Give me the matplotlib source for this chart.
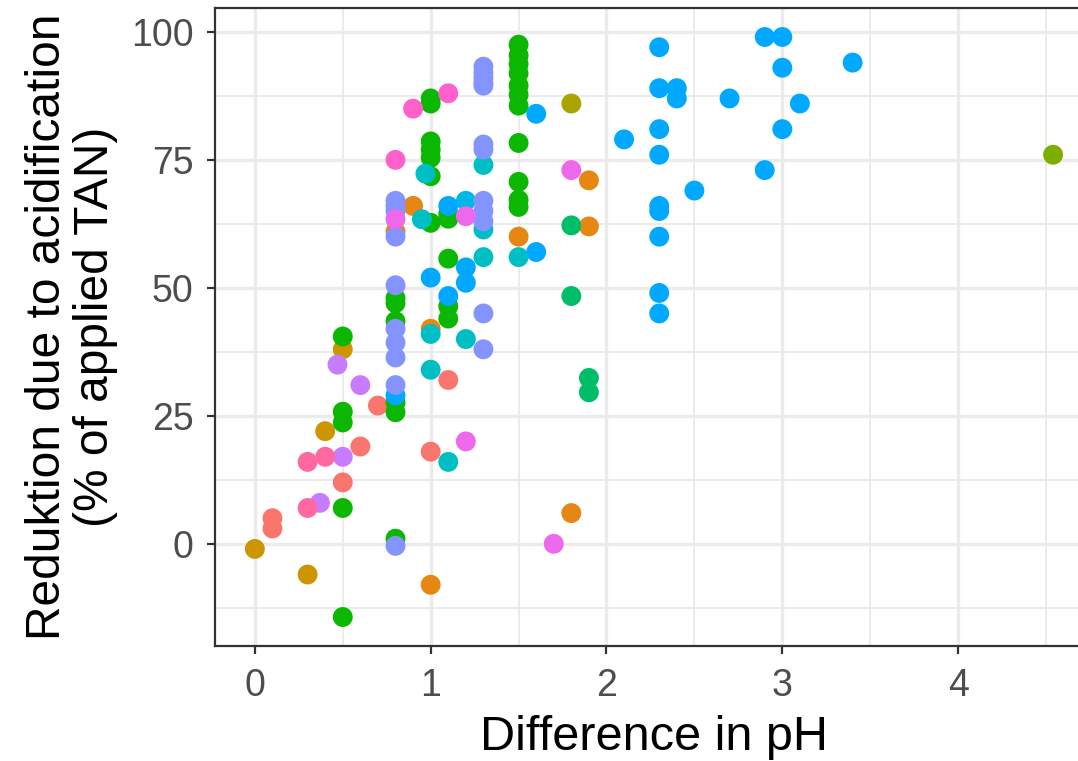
import numpy as np
import matplotlib.pyplot as plt

plt.rcParams['font.family'] = ['Liberation Sans', 'DejaVu Sans']

# pH difference (x) and reduction in % of applied TAN (y), one pair per study
s01_x = [0.1, 0.1, 0.5, 0.6, 0.7, 1.0, 1.1]
s01_y = [5, 3, 12, 19, 27, 18, 32]
s02_x = [1.0, 1.0, 0.9, 0.8, 1.5, 1.8, 1.9, 1.9]
s02_y = [-8, 42, 66, 61, 60, 6, 71, 62]
s03_x = [0.0, 0.3, 0.4, 0.5]
s03_y = [-1, -6, 22, 38]
s04_x = [1.8]
s04_y = [86]
s05_x = [4.54]
s05_y = [76]
s06_x = [0.5, 0.5, 0.5, 0.5, 0.5,
         0.8, 0.8, 0.8, 0.8, 0.8, 0.8,
         1.0, 1.0, 1.0, 1.0, 1.0, 1.0, 1.0,
         1.1, 1.1, 1.1, 1.1, 1.1,
         1.5, 1.5, 1.5, 1.5, 1.5, 1.5, 1.5, 1.5, 1.5, 1.5, 1.5]
s06_y = [40.5, 25.8, 23.7, 7, -14.3,
         48, 47, 43.5, 27.6, 25.7, 1,
         87, 86, 78.6, 77, 75.4, 71.8, 62.7,
         64.5, 63.5, 55.7, 46.4, 44,
         97.5, 95.4, 93.7, 91.9, 89.5, 87.7, 85.6, 78.3, 70.7, 67.2, 65.8]
s07_x = [1.8, 1.8, 1.9, 1.9]
s07_y = [62.2, 48.4, 32.4, 29.6]
s08_x = [1.3, 1.3, 1.3, 1.5, 1.0, 1.0, 1.1, 1.2, 0.95, 0.97]
s08_y = [74, 61.4, 56, 56, 41, 34, 16, 40, 63.4, 72.3]
s09_x = [1.2]
s09_y = [67]
s10_x = [2.3, 2.9, 3.0, 3.4, 3.0, 2.3, 2.4, 2.4, 2.7, 3.1, 2.3, 3.0, 2.1,
         2.3, 2.9, 2.5, 2.3, 2.3, 2.3, 2.3, 2.3,
         1.6, 1.6, 1.0, 1.1, 1.1, 1.2, 1.2, 0.8]
s10_y = [97, 99, 99, 94, 93, 89, 89, 87, 87, 86, 81, 81, 79,
         76, 73, 69, 66, 65, 60, 49, 45,
         84, 57, 52, 48.4, 66, 54, 51, 29]
s11_x = [0.8, 0.8, 0.8, 0.8, 0.8, 0.8, 0.8, 0.8, 0.8, 0.8,
         1.3, 1.3, 1.3, 1.3, 1.3, 1.3, 1.3, 1.3, 1.3, 1.3, 1.3, 1.3]
s11_y = [67, 66, 65, 60, 50.5, 42, 39.3, 36.4, 31, -0.4,
         93.2, 92, 91, 90, 89.5, 78, 77, 67, 65, 63, 45, 38]
s12_x = [0.47, 0.6, 0.5, 0.37]
s12_y = [35, 31, 17, 8]
s13_x = [1.7, 1.8, 1.2, 1.2, 0.8]
s13_y = [0, 73, 20, 64, 63.4]
s14_x = [0.8, 0.9, 1.1]
s14_y = [75, 85, 88]
s15_x = [0.3, 0.4, 0.3]
s15_y = [16, 17, 7]

studies = [(s01_x, s01_y), (s02_x, s02_y), (s03_x, s03_y), (s04_x, s04_y),
           (s05_x, s05_y), (s06_x, s06_y), (s07_x, s07_y), (s08_x, s08_y),
           (s09_x, s09_y), (s10_x, s10_y), (s11_x, s11_y), (s12_x, s12_y),
           (s13_x, s13_y), (s14_x, s14_y), (s15_x, s15_y)]
colors = ['#F8766D', '#E68613', '#CD9600', '#ABA300', '#7CAE00', '#0CB702',
          '#00BE67', '#00BFC4', '#00B8E7', '#00A9FF', '#8494FF', '#C77CFF',
          '#ED68ED', '#FF61CC', '#FF68A1']

fig = plt.figure(figsize=(10.78, 7.61), dpi=100)
ax = fig.add_axes([0.1994, 0.1511, 0.8145, 0.8384])

for (xs, ys), c in zip(studies, colors):
    ax.scatter(xs, ys, s=205, color=c, edgecolors='none', zorder=3)

# ggplot-like 5% expansion of the data range
all_x = np.concatenate([s[0] for s in studies])
all_y = np.concatenate([s[1] for s in studies])
dx = (all_x.max() - all_x.min()) * 0.05
dy = (all_y.max() - all_y.min()) * 0.05
ax.set_xlim(all_x.min() - dx, all_x.max() + dx)
ax.set_ylim(all_y.min() - dy, all_y.max() + dy)

ax.set_xticks([0, 1, 2, 3, 4])
ax.set_xticks(np.arange(0.5, 5, 1), minor=True)
ax.set_yticks([0, 25, 50, 75, 100])
ax.set_yticks([-12.5, 12.5, 37.5, 62.5, 87.5], minor=True)

ax.grid(True, which='major', color='#EBEBEB', linewidth=2.4, zorder=0)
ax.grid(True, which='minor', color='#EBEBEB', linewidth=1.4, zorder=0)
ax.set_axisbelow(True)

ax.tick_params(which='major', length=5.5, width=1.6, color='#333333',
               labelsize=27, labelcolor='#4D4D4D', pad=10)
ax.tick_params(which='minor', length=0)
for sp in ax.spines.values():
    sp.set_color('#333333')
    sp.set_linewidth(1.6)

ax.set_xlabel('Difference in pH', fontsize=35, labelpad=8)
ax.set_ylabel('Reduktion due to acidification\n(% of applied TAN)',
              fontsize=34.5, linespacing=1.1, labelpad=9)

fig.savefig('out.png', dpi=100)
